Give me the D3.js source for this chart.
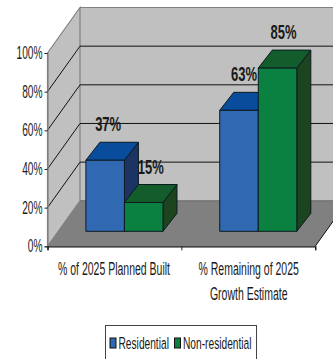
<!DOCTYPE html>
<html><head><meta charset="utf-8">
<script src="https://cdn.jsdelivr.net/npm/d3@7"></script>
<style>html,body{margin:0;padding:0;background:#fff;overflow:hidden}svg{display:block}text{font-family:"Liberation Sans",Arial,sans-serif}</style>
</head><body><svg id="c" width="333" height="359"></svg>
<script>
const categories = [["% of 2025 Planned Built"], ["% Remaining of 2025", "Growth Estimate"]];
const seriesNames = ["Residential", "Non-residential"];
const residential = [37, 63];
const nonResidential = [15, 85];
const yTicks = [0, 20, 40, 60, 80, 100];

const svg = d3.select("#c");
const x0 = 47.5, x1 = 315.2, depthX = 32.5, depthY = 45.5;
const y = d3.scaleLinear().domain([0, 100]).range([246.3, 53]);
const xCat = d3.scaleBand().domain([0, 1]).range([x0, x1]).paddingInner(0.424).paddingOuter(0.212);
const xSer = d3.scaleBand().domain([0, 1]).range([0, xCat.bandwidth()]);
const barH = d3.scaleLinear().domain([0, 100]).range([0, 192]);
const barBase = 231.3, barDx = 14, barDy = 18, barShift = 10;

const pts = a => a.map(p => p.join(",")).join(" ");
const wall = "#c0c0c0", edge = "#808080";
const yTop = y(100), yBot = y(0);

svg.append("polygon").attr("points", pts([[x0 + depthX, yTop - depthY], [x1 + depthX, yTop - depthY], [x1 + depthX, yBot - depthY], [x0 + depthX, yBot - depthY]])).attr("fill", wall);
svg.append("polygon").attr("points", pts([[x0, yTop], [x0 + depthX, yTop - depthY], [x0 + depthX, yBot - depthY], [x0, yBot]])).attr("fill", wall).attr("stroke", edge).attr("stroke-width", 1.2);
svg.append("line").attr("x1", x0 + depthX).attr("x2", 333).attr("y1", yTop - depthY).attr("y2", yTop - depthY).attr("stroke", edge).attr("stroke-width", 1.2);
svg.append("polygon").attr("points", pts([[x0, yBot], [x0 + depthX, yBot - depthY], [x1 + depthX, yBot - depthY], [x1, yBot]])).attr("fill", edge);
svg.append("line").attr("x1", x0 + depthX).attr("x2", 333).attr("y1", yBot - depthY).attr("y2", yBot - depthY).attr("stroke", "#666").attr("stroke-width", 1);

yTicks.filter(t => t > 0 && t < 100).forEach(t => {
  svg.append("path").attr("fill", "none").attr("stroke", "#111").attr("stroke-width", 1)
    .attr("d", `M${x0},${y(t)}L${x0 + depthX},${y(t) - depthY}L333,${y(t) - depthY}`);
});
svg.append("path").attr("fill", "none").attr("stroke", "#111").attr("stroke-width", 1)
  .attr("d", `M${x1},${yBot}L${x1 + depthX},${yBot - depthY}`);

const gy = svg.append("g").attr("transform", `translate(${x0},0)`)
  .call(d3.axisLeft(y).tickValues(yTicks).tickSize(3).tickFormat(() => ""));
gy.select(".domain").attr("stroke", edge).attr("stroke-width", 1.2);
gy.selectAll(".tick line").attr("stroke", "#222");
const gx = svg.append("g").attr("transform", `translate(0,${yBot})`)
  .call(d3.axisBottom(d3.scaleLinear().domain([0, 2]).range([x0, x1])).tickValues([0, 1, 2]).tickSize(4).tickFormat(() => ""));
gx.select(".domain").attr("stroke", "#111").attr("stroke-width", 1.3);
gx.selectAll(".tick line").attr("stroke", "#222");

function sx(s, px, py, str, size, weight, anchor, k) {
  return s.append("text").attr("transform", `translate(${px},${py}) scale(${k},1)`)
    .attr("text-anchor", anchor).attr("font-size", size).attr("font-weight", weight).attr("fill", "#1a1a1a").text(str);
}
yTicks.forEach(t => sx(svg, 42.5, y(t) + 6, t + "%", 17.5, "normal", "end", 0.58));

const colors = [{ f: "#3069b1", t: "#0a4c9c", s: "#1c3464" }, { f: "#0a8041", t: "#135c2c", s: "#1c441f" }];
const series = [residential, nonResidential];
const w = xSer.bandwidth();
[0, 1].forEach(c => {
  series.forEach((vals, i) => {
    const bx = xCat(c) + xSer(i) + barShift, h = barH(vals[c]), top = barBase - h, col = colors[i];
    const g = svg.append("g").attr("stroke", "#0c1a20").attr("stroke-width", 1).attr("stroke-linejoin", "round");
    g.append("polygon").attr("fill", col.s).attr("points", pts([[bx + w, top], [bx + w + barDx, top - barDy], [bx + w + barDx, barBase - barDy], [bx + w, barBase]]));
    g.append("polygon").attr("fill", col.t).attr("points", pts([[bx, top], [bx + barDx, top - barDy], [bx + w + barDx, top - barDy], [bx + w, top]]));
    g.append("rect").attr("fill", col.f).attr("x", bx).attr("y", top).attr("width", w).attr("height", h);
  });
});
const nudge = [[3, 5], [7, 6]];
[0, 1].forEach(c => {
  series.forEach((vals, i) => {
    const bx = xCat(c) + xSer(i) + barShift, top = barBase - barH(vals[c]);
    sx(svg, bx + w / 2 + nudge[i][c], top - 29, vals[c] + "%", 20, "bold", "middle", 0.65);
  });
});

const catCx = [114, 248.7];
categories.forEach((lines, c) => {
  lines.forEach((l, j) => sx(svg, catCx[c], 275 + j * 25, l, 17.5, "normal", "middle", 0.6));
});

// legend frame runs off the bottom of the picture
svg.append("rect").attr("x", 105.5).attr("y", 325.5).attr("width", 151).attr("height", 45).attr("fill", "#fff").attr("stroke", "#444").attr("stroke-width", 1);
const lx = [110, 174.5];
seriesNames.forEach((n, i) => {
  svg.append("rect").attr("x", lx[i]).attr("y", 338).attr("width", 6).attr("height", 10).attr("fill", colors[i].f).attr("stroke", "#111");
  sx(svg, lx[i] + 8.5, 348.5, n, 17, "normal", "start", 0.6);
});
</script></body></html>
